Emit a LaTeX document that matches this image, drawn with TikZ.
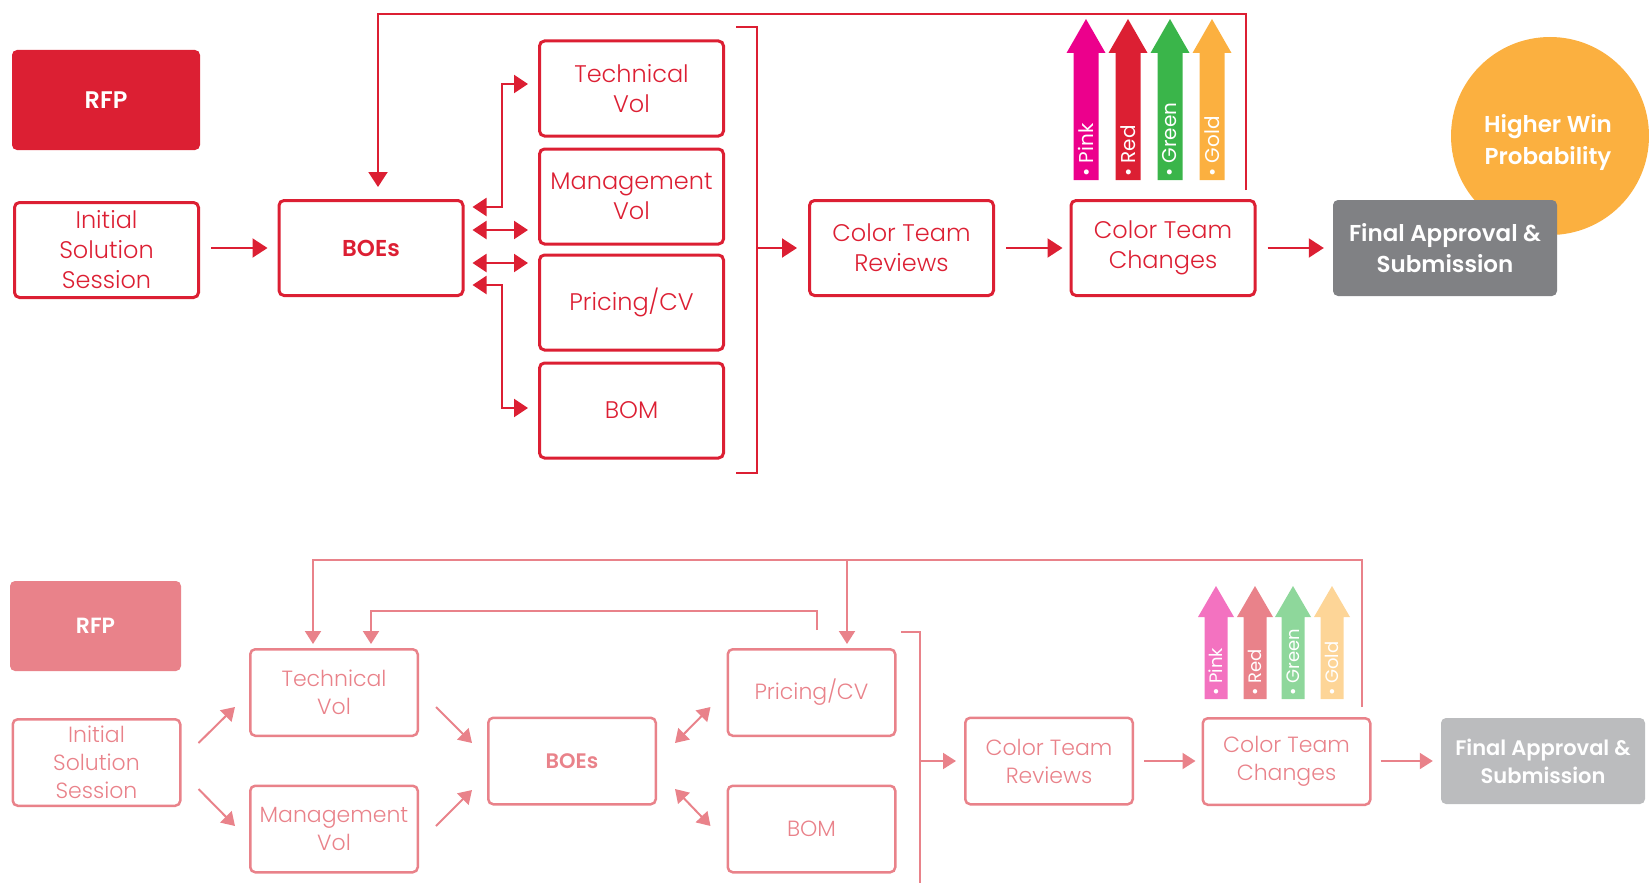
\documentclass[tikz,border=0pt]{standalone}
\usepackage{fontspec}
\usetikzlibrary{arrows.meta}
\newfontfamily\lightf{Poppins Light}
\newfontfamily\semib{Poppins SemiBold}
\newfontfamily\regf{Poppins}
\definecolor{cred}{HTML}{DC1F33}
\definecolor{cpink}{HTML}{EC008C}
\definecolor{cgreen}{HTML}{3AB54A}
\definecolor{cgold}{HTML}{FBB040}
\definecolor{cgray}{HTML}{808184}
\definecolor{lred}{HTML}{E9828A}
\definecolor{lpink}{HTML}{F372C0}
\definecolor{lgreen}{HTML}{8ED79B}
\definecolor{lgold}{HTML}{FDD597}
\definecolor{lgray}{HTML}{BBBCBE}
\newcommand\upbar[7]{%
  \fill[#7] (#1-#6,#4) -- (#1-#6,#3) -- (#1-#5,#3) -- (#1,#2) -- (#1+#5,#3) -- (#1+#6,#3) -- (#1+#6,#4) -- cycle;}
\tikzset{
  box1/.style={draw=cred, line width=3pt, rounded corners=5pt, minimum width=184pt, minimum height=95pt,
    align=center, text=cred, inner sep=0pt, font=\lightf\fontsize{24}{30}\selectfont},
  box2/.style={draw=lred, line width=2.5pt, rounded corners=5pt, minimum width=167.5pt, minimum height=86.5pt,
    align=center, text=lred, inner sep=0pt, font=\lightf\fontsize{22}{28}\selectfont},
  bold1/.style={font=\semib\fontsize{23}{31}\selectfont},
  bold2/.style={font=\semib\fontsize{21}{28}\selectfont},
  solid1/.style={fill=#1, rounded corners=5pt, text=white, align=center, inner sep=0pt},
  line1/.style={draw=cred, line width=2pt},
  line2/.style={draw=lred, line width=2pt},
  arr1/.style={line1, -{Triangle[length=15pt,width=19pt]}},
  dbl1/.style={line1, {Triangle[length=14pt,width=18pt]}-{Triangle[length=14pt,width=18pt]}},
  arr2/.style={line2, -{Triangle[length=13pt,width=16pt]}},
  dbl2/.style={line2, {Triangle[length=13pt,width=16pt]}-{Triangle[length=13pt,width=16pt]}},
  lab1/.style={text=white, rotate=90, anchor=west, inner sep=0pt, font=\regf\fontsize{20}{24}\selectfont},
  lab2/.style={text=white, rotate=90, anchor=west, inner sep=0pt, font=\regf\fontsize{18}{22}\selectfont},
}
\begin{document}
\begin{tikzpicture}[x=1pt,y=-1pt]
\useasboundingbox (0,0) rectangle (1649,883);

% ================= TOP =================
\node[solid1=cred, minimum width=188pt, minimum height=100pt, font=\semib\fontsize{24}{30}\selectfont] (rfp1) at (106,100) {RFP};
\node[box1] (iss1) at (106.5,250) {Initial\\Solution\\Session};
\node[box1, bold1] (boe1) at (371,248) {BOEs};
\node[box1] (tv1) at (631.5,88.5) {Technical\\Vol};
\node[box1] (mv1) at (631.5,196.5) {Management\\Vol};
\node[box1] (pr1) at (631.5,302.5) {Pricing/CV};
\node[box1] (bom1) at (631.5,410.5) {BOM};
\node[box1] (ctr1) at (901.5,248) {Color Team\\Reviews};
\node[box1] (ctc1) at (1163,248) {Color Team\\Changes};
\node[circle, fill=cgold, minimum size=198pt, inner sep=0pt] (win) at (1550,136) {};
\node[text=white, align=center, font=\semib\fontsize{23}{32}\selectfont] (wintxt) at (1548,142) {Higher Win\\Probability};
\node[solid1=cgray, minimum width=224pt, minimum height=96pt, bold1] (fin1) at (1445,248) {Final Approval \&\\Submission};

\draw[arr1, shorten <=11pt, shorten >=10pt] (boe1.west -| iss1.east) -- (boe1.west);
\draw[arr1, shorten <=9pt, shorten >=12pt] ([xshift=83pt]ctc1.north) -- ++(0,-185) -| ([xshift=7pt]boe1.north);
\draw[dbl1, shorten <=8pt, shorten >=10pt] ([yshift=41pt]boe1.east) -- ++(37,0) |- ([yshift=4.5pt]tv1.west);
\draw[dbl1, shorten <=8pt, shorten >=10pt] ([yshift=18pt]boe1.east) coordinate (m1) -- (m1 -| mv1.west);
\draw[dbl1, shorten <=8pt, shorten >=10pt] ([yshift=-15pt]boe1.east) coordinate (m2) -- (m2 -| pr1.west);
\draw[dbl1, shorten <=8pt, shorten >=10pt] ([yshift=-37pt]boe1.east) -- ++(37,0) |- ([yshift=2.5pt]bom1.west);
\draw[line1] (736,27) -| (757,473) -- (736,473);
\coordinate (b1) at (757,248);
\draw[arr1, shorten >=11pt] (b1) -- (ctr1.west);
\draw[arr1, shorten <=11pt, shorten >=7pt] (ctr1) -- (ctc1);
\draw[arr1, shorten <=11pt, shorten >=9pt] (ctc1) -- (fin1);

\upbar{1086}{19}{53}{180}{19.5}{12.5}{cpink}
\upbar{1128}{19}{53}{180}{19.5}{12.5}{cred}
\upbar{1170}{19}{53}{180}{19.5}{12.5}{cgreen}
\upbar{1212}{19}{53}{180}{19.5}{12.5}{cgold}
\node[lab1] (lp1) at (1086,177) {\textbullet\ Pink};
\node[lab1] (lr1) at (1128,177) {\textbullet\ Red};
\node[lab1] (lg1) at (1170,177) {\textbullet\ Green};
\node[lab1] (lo1) at (1212,177) {\textbullet\ Gold};

% ================= BOTTOM =================
\node[solid1=lred, minimum width=171pt, minimum height=90pt, font=\semib\fontsize{22}{28}\selectfont] (rfp2) at (95.5,626) {RFP};
\node[box2] (iss2) at (96.5,762.5) {Initial\\Solution\\Session};
\node[box2] (tv2) at (334,692.5) {Technical\\Vol};
\node[box2] (mv2) at (334,829) {Management\\Vol};
\node[box2, bold2] (boe2) at (572,761) {BOEs};
\node[box2] (pr2) at (811.5,692.5) {Pricing/CV};
\node[box2] (bom2) at (811.5,829) {BOM};
\node[box2] (ctr2) at (1049,761) {Color Team\\Reviews};
\node[box2] (ctc2) at (1286.5,761.5) {Color Team\\Changes};
\node[solid1=lgray, minimum width=204pt, minimum height=86pt, bold2] (fin2) at (1543,761) {Final Approval \&\\Submission};

\draw[arr2] ([xshift=17pt,yshift=19.5pt]iss2.east) -- ([xshift=-14pt,yshift=-14.5pt]tv2.west);
\draw[arr2] ([xshift=17pt,yshift=-26.5pt]iss2.east) -- ([xshift=-14pt,yshift=3pt]mv2.west);
\draw[arr2] ([xshift=17pt,yshift=-14.5pt]tv2.east) -- ([xshift=-15pt,yshift=18pt]boe2.west);
\draw[arr2] ([xshift=17pt,yshift=3pt]mv2.east) -- ([xshift=-15pt,yshift=-29pt]boe2.west);
\draw[dbl2] ([xshift=18pt,yshift=18pt]boe2.east) -- ([xshift=-16pt,yshift=-14.5pt]pr2.west);
\draw[dbl2] ([xshift=18pt,yshift=-28pt]boe2.east) -- ([xshift=-16pt,yshift=3pt]bom2.west);

\draw[arr2, shorten <=10pt, shorten >=4pt] ([xshift=75.5pt]ctc2.north) -- ++(0,-157) -| ([xshift=-21pt]tv2.north);
\draw[arr2, shorten >=4pt] ([xshift=35.5pt,yshift=87pt]pr2.north) -- ([xshift=35.5pt]pr2.north);
\draw[arr2, shorten >=4pt] ([xshift=5.5pt,yshift=18pt]pr2.north) -- ++(0,-19) -| ([xshift=37pt]tv2.north);

\draw[line2] (901,632) -| (920,900);
\coordinate (b2) at (920,761);
\draw[arr2, shorten >=8pt] (b2) -- (ctr2.west);
\draw[arr2, shorten <=10pt, shorten >=6pt] (ctr2.east) -- (ctc2.west |- ctr2.east);
\draw[arr2, shorten <=9pt, shorten >=8pt] (ctc2.east |- fin2.west) -- (fin2.west);

\upbar{1216}{586}{617}{699}{18}{11.5}{lpink}
\upbar{1255}{586}{617}{699}{18}{11.5}{lred}
\upbar{1293}{586}{617}{699}{18}{11.5}{lgreen}
\upbar{1332}{586}{617}{699}{18}{11.5}{lgold}
\node[lab2] (lp2) at (1216,696) {\textbullet\ Pink};
\node[lab2] (lr2) at (1255,696) {\textbullet\ Red};
\node[lab2] (lg2) at (1293,696) {\textbullet\ Green};
\node[lab2] (lo2) at (1332,696) {\textbullet\ Gold};
\end{tikzpicture}
\end{document}
